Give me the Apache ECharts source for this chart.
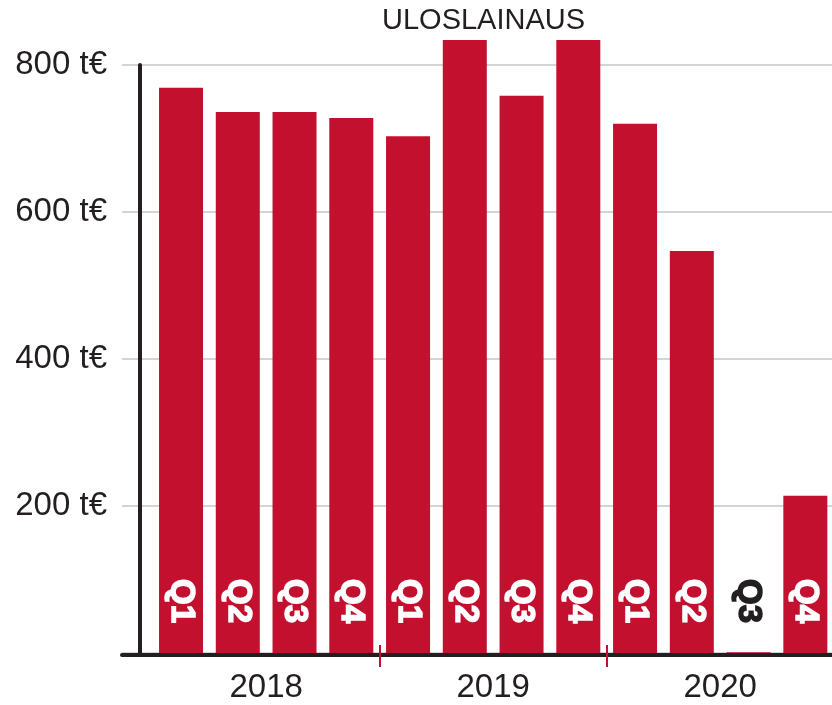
<!DOCTYPE html>
<html>
<head>
<meta charset="utf-8">
<script src="https://cdn.jsdelivr.net/npm/echarts@6/dist/echarts.min.js"></script>
<style>
  html, body { margin: 0; padding: 0; background: #fff; }
  #chart { width: 832px; height: 705px; }
</style>
</head>
<body>
<div id="chart"></div>
<script>
// Quarterly values (t€), 2018 Q1 .. 2020 Q4
const quarters = ['Q1', 'Q2', 'Q3', 'Q4', 'Q1', 'Q2', 'Q3', 'Q4', 'Q1', 'Q2', 'Q3', 'Q4']
const values = [769, 736, 736, 728, 703, 834, 758, 834, 720, 547, 1, 214]
const years = ['2018', '2019', '2020']
const yTicks = [200, 400, 600, 800]

const red = '#c3102f'
const ink = '#231f20'

// x positions: bar i sits at i, years centred on their 4 quarters
const xMin = -1.04
const xMax = 11.47
const yearCenters = years.map((y, i) => i * 4 + 1.5)
const yearBreaks = [3.5, 7.5]

const chart = echarts.init(document.getElementById('chart'))

const barData = values.map((v, i) => {
  const item = { value: [i, v] }
  // tiny bar: label sits on white, so draw it dark
  if (v < 50) item.label = { color: ink, textBorderColor: ink }
  return item
})

const option = {
  animation: false,
  title: {
    text: 'ULOSLAINAUS',
    left: 382,
    top: 6,
    padding: 0,
    textStyle: {
      fontFamily: 'Liberation Sans',
      fontSize: 29,
      fontWeight: 'normal',
      color: ink,
    },
  },
  grid: {
    left: 122,
    right: 0,
    top: 65,
    bottom: 52,
  },
  xAxis: [
    {
      type: 'value',
      min: xMin,
      max: xMax,
      offset: 2,
      axisLine: { show: true, onZero: false, lineStyle: { color: ink, width: 4 } },
      axisTick: { show: false },
      axisLabel: { show: false },
      splitLine: { show: false },
    },
    {
      type: 'value',
      position: 'bottom',
      min: xMin,
      max: xMax,
      offset: -8,
      axisLine: { show: false, onZero: false },
      axisTick: {
        show: true,
        customValues: yearBreaks,
        length: 22,
        lineStyle: { color: red, width: 2 },
      },
      axisLabel: {
        show: true,
        customValues: yearCenters,
        margin: 26,
        fontFamily: 'Liberation Sans',
        fontSize: 33,
        color: ink,
        formatter: v => years[Math.round((v - 1.5) / 4)],
      },
      splitLine: { show: false },
    },
  ],
  yAxis: {
    type: 'value',
    min: 0,
    max: 800,
    interval: 200,
    offset: -18,
    axisLine: { show: true, onZero: false, lineStyle: { color: ink, width: 4 } },
    axisTick: { show: false },
    axisLabel: {
      customValues: yTicks,
      margin: 33,
      fontFamily: 'Liberation Sans',
      fontSize: 33,
      color: ink,
      formatter: v => v + ' t€',
    },
    splitLine: { show: true, lineStyle: { color: '#d4d4d4', width: 2 } },
  },
  series: [
    {
      type: 'bar',
      xAxisIndex: 0,
      barWidth: 44,
      clip: false,
      itemStyle: { color: red },
      label: {
        show: true,
        position: 'insideBottom',
        distance: 30,
        rotate: -90,
        align: 'right',
        verticalAlign: 'middle',
        fontFamily: 'Liberation Sans',
        fontWeight: 'bold',
        fontSize: 33,
        color: '#fff',
        textBorderColor: '#fff',
        textBorderWidth: 1.5,
        formatter: p => quarters[p.dataIndex],
      },
      data: barData,
    },
  ],
}

chart.setOption(option)
</script>
</body>
</html>
